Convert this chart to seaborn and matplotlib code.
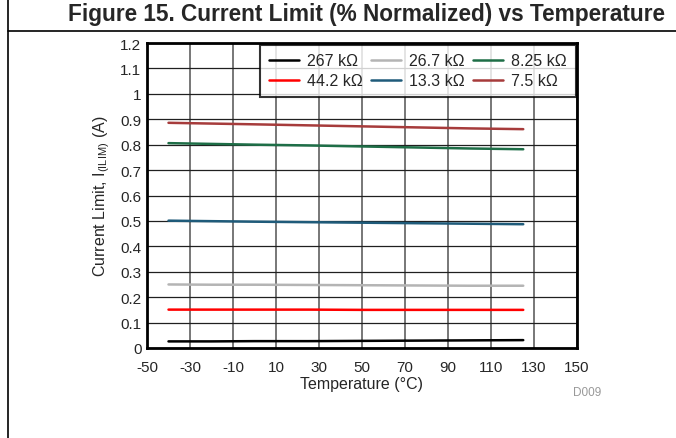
import matplotlib
matplotlib.use("Agg")
import matplotlib.pyplot as plt
import seaborn as sns
import pandas as pd
from matplotlib.lines import Line2D

temps = [-40, -20, 0, 25, 50, 75, 100, 125]
labels = ["267 kΩ", "44.2 kΩ", "26.7 kΩ", "13.3 kΩ", "8.25 kΩ", "7.5 kΩ"]
r267 = [0.026, 0.026, 0.027, 0.027, 0.028, 0.029, 0.030, 0.031]
r44 = [0.151, 0.151, 0.151, 0.151, 0.150, 0.150, 0.150, 0.150]
r26 = [0.250, 0.249, 0.249, 0.248, 0.247, 0.246, 0.245, 0.245]
r13 = [0.501, 0.499, 0.497, 0.495, 0.493, 0.491, 0.489, 0.487]
r8 = [0.806, 0.803, 0.800, 0.797, 0.793, 0.789, 0.785, 0.782]
r7 = [0.886, 0.883, 0.880, 0.876, 0.872, 0.868, 0.864, 0.861]
colors = ["#000000", "#FF0000", "#B4B4B4", "#1F5B7A", "#1E6E47", "#A63B3B"]

series = [r267, r44, r26, r13, r8, r7]
df = pd.DataFrame({
    "T": temps * len(labels),
    "I": [v for s in series for v in s],
    "R": [lab for lab in labels for _ in temps],
})

sns.set_style("white")
plt.rcParams["font.family"] = ["Liberation Sans", "DejaVu Sans"]
plt.rcParams["axes.unicode_minus"] = False

fig = plt.figure(figsize=(6.76, 4.39), dpi=100)
ax = fig.add_axes([147/676, 1-349/439, (577-147)/676, (349-44)/439])
sns.lineplot(data=df, x="T", y="I", hue="R", hue_order=labels,
             palette=dict(zip(labels, colors)), linewidth=1.8, ax=ax, legend=False)

ax.set_xlim(-50, 150)
ax.set_ylim(0, 1.2)
ax.set_xticks(list(range(-50, 151, 20)))
ax.set_yticks([i / 10 for i in range(0, 13)])
ax.set_yticklabels(["0", "0.1", "0.2", "0.3", "0.4", "0.5", "0.6", "0.7", "0.8", "0.9", "1", "1.1", "1.2"])
ax.tick_params(axis="y", labelsize=11, length=0, pad=4)
ax.tick_params(axis="x", labelsize=11, length=0, pad=9)
ax.xaxis.grid(True, color="#606060", linewidth=1.2)
ax.yaxis.grid(True, color="#202020", linewidth=0.9)
ax.set_axisbelow(True)
for sp in ax.spines.values():
    sp.set_visible(True)
    sp.set_color("black")
    sp.set_linewidth(2.0)
ax.set_xlabel("Temperature (°C)", fontsize=11.5, labelpad=1)
ax.set_ylabel("Current Limit, I$_{\\mathregular{(ILIM)}}$ (A)", fontsize=11.5, labelpad=6)

handles = [Line2D([0], [0], color=c, linewidth=1.8) for c in colors]
leg = ax.legend(handles, labels, ncol=3, loc="upper right", frameon=True,
                fontsize=11.5, handlelength=1.9, handletextpad=0.5,
                columnspacing=0.5, borderaxespad=0.0, labelspacing=0.3,
                fancybox=False, borderpad=0.55, bbox_to_anchor=(0.997, 0.995))
leg.get_frame().set_edgecolor("black")
leg.get_frame().set_linewidth(1.5)

fig.text(665/676, 1-15/439, "Figure 15. Current Limit (% Normalized) vs Temperature",
         ha="right", va="center", fontsize=16.3, fontweight="bold")
fig.text(573/676, 1-393/439, "D009", ha="left", va="center", fontsize=8.5, color="#999999")
fig.add_artist(Line2D([8/676, 8/676], [0, 1], transform=fig.transFigure, color="black", linewidth=1.2))
fig.add_artist(Line2D([8/676, 1], [1-32/439, 1-32/439], transform=fig.transFigure, color="black", linewidth=1.2))

fig.savefig("out.png", dpi=100)
